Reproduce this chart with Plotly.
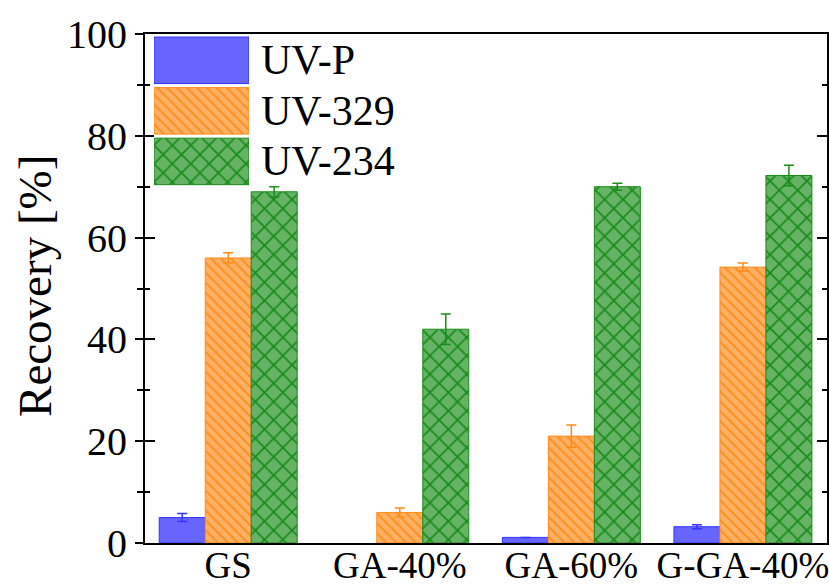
import plotly.graph_objects as go

# Sample groups and series
groups = ["GS", "GA-40%", "GA-60%", "G-GA-40%"]
series = ["UV-P", "UV-329", "UV-234"]

# Recovery values [%] and their standard deviations (None = not detected)
uv_p = [5.0, None, 1.1, 3.2]
uv_p_err = [0.8, None, 0.0, 0.4]
uv_329 = [56.0, 6.0, 21.0, 54.2]
uv_329_err = [1.0, 0.9, 2.2, 0.8]
uv_234 = [69.0, 42.0, 70.0, 72.2]
uv_234_err = [1.0, 3.0, 0.7, 2.0]

values = [uv_p, uv_329, uv_234]
errors = [uv_p_err, uv_329_err, uv_234_err]

# Per-series styling
bg_colors = ["#6666ff", "#ffb062", "#66b366"]
fg_colors = ["#3333ff", "#ff8c1a", "#1a8c1a"]
shapes = ["", "\\", "x"]
sizes = [8, 7, 13]

FONT = "Liberation Serif, Times New Roman, Times, serif"


def bar_marker(bg, fg, shp, sz):
    return dict(
        color=bg,
        line=dict(color=fg, width=1),
        pattern=dict(shape=shp, fgcolor=fg, bgcolor=bg, size=sz,
                     solidity=0.25, fillmode="replace"),
    )


fig = go.Figure()

for name, vals, err, bg, fg, shp, sz in zip(series, values, errors, bg_colors, fg_colors, shapes, sizes):
    fig.add_trace(go.Bar(
        x=groups, y=vals, name=name, showlegend=False,
        marker=bar_marker(bg, fg, shp, sz),
        error_y=dict(type="data", array=err, color=fg, thickness=1.5, width=5),
    ))

# Invisible trace that carries the inner tick axis
fig.add_trace(go.Scatter(x=[groups[0]], y=[None], yaxis="y2", showlegend=False,
                         hoverinfo="skip", mode="markers"))

# Legend swatches drawn as bars on a small inset axis
for name, bg, fg, shp, sz in zip(series, bg_colors, fg_colors, shapes, sizes):
    fig.add_trace(go.Bar(
        orientation="h", y=[name], x=[1], xaxis="x2", yaxis="y3",
        width=0.92, offsetgroup="key", showlegend=False, hoverinfo="skip",
        marker=bar_marker(bg, fg, shp, sz),
    ))

annotations = [
    dict(text=s, xref="x2 domain", x=1.11, yref="y3", y=s, xanchor="left",
         yanchor="middle", showarrow=False, font=dict(family=FONT, size=42, color="black"))
    for s in series
]
# Y-axis title
annotations.append(dict(
    text="Recovery [%]", textangle=-90, xref="paper", yref="paper",
    x=-0.1613, y=0.505, xanchor="center", yanchor="middle", showarrow=False,
    font=dict(family=FONT, size=47, color="black"),
))

fig.update_layout(
    width=829, height=585,
    margin=dict(l=145, r=2, t=34, b=42),
    paper_bgcolor="white", plot_bgcolor="white",
    barmode="group", bargap=0.196, bargroupgap=0,
    font=dict(family=FONT, color="black"),
    annotations=annotations,
    xaxis=dict(
        type="category", range=[-0.485, 3.49], automargin=False,
        showline=True, linewidth=2, linecolor="black", mirror=True,
        ticks="", showgrid=False, zeroline=False, ticklabelstandoff=-11,
        tickfont=dict(family=FONT, size=37, color="black"),
    ),
    yaxis=dict(
        range=[0, 100], dtick=20, showgrid=False, zeroline=False, automargin=False,
        showline=True, linewidth=2, linecolor="black", mirror=True,
        ticks="outside", ticklen=8, tickwidth=2, tickcolor="black",
        minor=dict(dtick=10, ticks="outside", ticklen=6, tickwidth=2, tickcolor="black"),
        tickfont=dict(family=FONT, size=40, color="black"),
    ),
    yaxis2=dict(
        overlaying="y", side="left", range=[0, 100], dtick=20, automargin=False,
        showgrid=False, zeroline=False, showline=False, showticklabels=False,
        ticks="inside", ticklen=10, tickwidth=2, tickcolor="black", mirror="ticks",
        minor=dict(dtick=10, ticks="inside", ticklen=5, tickwidth=2, tickcolor="black"),
    ),
    xaxis2=dict(domain=[0.0132, 0.1525], anchor="y3", range=[0, 1], visible=False),
    yaxis3=dict(domain=[0.70, 0.998], anchor="x2", type="category",
                autorange="reversed", visible=False),
)

fig.write_html("out.html")
